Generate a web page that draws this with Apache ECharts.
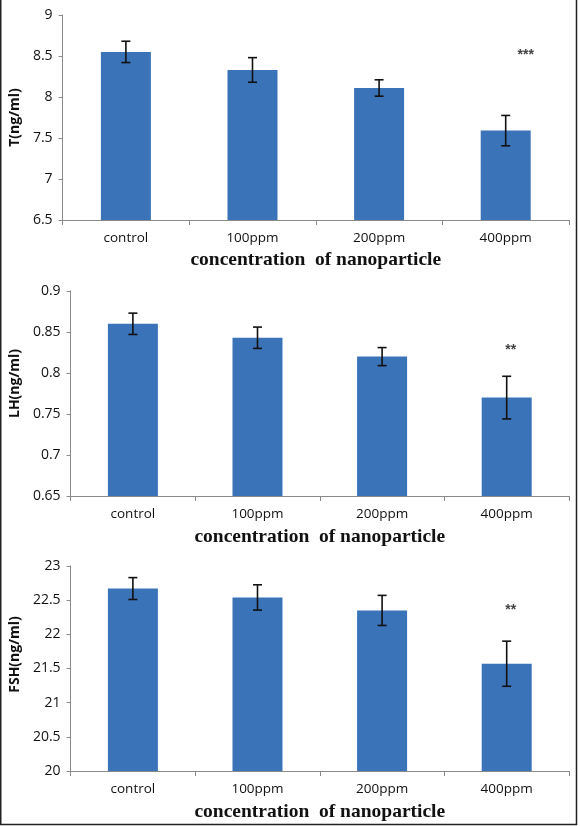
<!DOCTYPE html>
<html>
<head>
<meta charset="utf-8">
<script src="https://cdn.jsdelivr.net/npm/echarts@6/dist/echarts.min.js"></script>
<style>
html,body{margin:0;padding:0;background:#fff;}
#chart{width:580px;height:826px;}
</style>
</head>
<body>
<div id="chart"></div>
<script>
// ---- data ----
const categories = ['control', '100ppm', '200ppm', '400ppm'];
const xAxisTitle = 'concentration  of nanoparticle';

const tTitle = 'T(ng/ml)';
const tValues = [8.55, 8.33, 8.11, 7.59];
const tErrors = [0.13, 0.15, 0.10, 0.185];
const tSigLabels = ['', '', '', '***'];
const tSigY = [null, null, null, 8.51];

const lhTitle = 'LH(ng/ml)';
const lhValues = [0.860, 0.843, 0.820, 0.770];
const lhErrors = [0.013, 0.013, 0.011, 0.026];
const lhSigLabels = ['', '', '', '**'];
const lhSigY = [null, null, null, 0.828];

const fshTitle = 'FSH(ng/ml)';
const fshValues = [22.67, 22.54, 22.35, 21.57];
const fshErrors = [0.16, 0.185, 0.22, 0.33];
const fshSigLabels = ['', '', '', '**'];
const fshSigY = [null, null, null, 22.36];

const tTicks = { min: 6.5, max: 9, interval: 0.5 };
const lhTicks = { min: 0.65, max: 0.9, interval: 0.05 };
const fshTicks = { min: 20, max: 23, interval: 0.5 };

// ---- styling / build ----
const barColor = '#3b73b9';
const axisColor = '#8a8a8a';
const labelColor = '#111';

const panels = [
  { title: tTitle, values: tValues, errors: tErrors, sig: tSigLabels, sigY: tSigY, ticks: tTicks,
    grid: { left: 61, right: 11, top: 15, height: 205 }, nameGap: 40, namePad: 0, xNameGap: 30, sigDx: 20 },
  { title: lhTitle, values: lhValues, errors: lhErrors, sig: lhSigLabels, sigY: lhSigY, ticks: lhTicks,
    grid: { left: 68, right: 11, top: 291, height: 205 }, nameGap: 46, namePad: 20, xNameGap: 31, sigDx: 4 },
  { title: fshTitle, values: fshValues, errors: fshErrors, sig: fshSigLabels, sigY: fshSigY, ticks: fshTicks,
    grid: { left: 68, right: 11, top: 566, height: 205 }, nameGap: 46, namePad: 28, xNameGap: 31, sigDx: 4 }
];

const grids = [], xAxes = [], yAxes = [], series = [];

panels.forEach((p, k) => {
  grids.push(p.grid);
  xAxes.push({
    type: 'category', gridIndex: k, data: categories,
    name: xAxisTitle, nameLocation: 'middle', nameGap: p.xNameGap,
    nameTextStyle: { fontFamily: 'Liberation Serif', fontWeight: 'bold', fontSize: 19.5, color: '#111' },
    axisLine: { lineStyle: { color: axisColor, width: 1 } },
    axisTick: { show: true, length: 5, lineStyle: { color: axisColor } },
    axisLabel: { color: labelColor, fontFamily: 'Open Sans', fontSize: 13.5, margin: 11 },
    splitLine: { show: false }
  });
  yAxes.push({
    type: 'value', gridIndex: k,
    min: p.ticks.min, max: p.ticks.max, interval: p.ticks.interval,
    name: p.title, nameLocation: 'middle', nameGap: p.nameGap, nameRotate: 90,
    nameTextStyle: { fontFamily: 'Open Sans', fontWeight: 'bold', fontSize: 14, color: '#111',
      padding: [0, 0, 0, p.namePad] },
    axisLine: { show: true, lineStyle: { color: axisColor, width: 1 } },
    axisTick: { show: true, length: 4, lineStyle: { color: axisColor } },
    axisLabel: { color: labelColor, fontFamily: 'Open Sans', fontSize: 14, margin: 10,
      formatter: v => String(parseFloat(v.toFixed(4))) },
    splitLine: { show: false }
  });
  series.push({
    type: 'bar', xAxisIndex: k, yAxisIndex: k, data: p.values,
    barWidth: 50, itemStyle: { color: barColor }, silent: true
  });
  series.push({
    type: 'custom', xAxisIndex: k, yAxisIndex: k, z: 5, silent: true,
    data: p.values.map((v, i) => [i, v, p.errors[i]]),
    renderItem: (params, api) => {
      const i = api.value(0), v = api.value(1), e = api.value(2);
      const top = api.coord([i, v + e]);
      const bot = api.coord([i, v - e]);
      const hw = 4.5;
      const st = { stroke: '#111', lineWidth: 1.6 };
      return { type: 'group', children: [
        { type: 'line', shape: { x1: top[0], y1: top[1], x2: bot[0], y2: bot[1] }, style: st },
        { type: 'line', shape: { x1: top[0] - hw, y1: top[1], x2: top[0] + hw, y2: top[1] }, style: st },
        { type: 'line', shape: { x1: bot[0] - hw, y1: bot[1], x2: bot[0] + hw, y2: bot[1] }, style: st }
      ]};
    }
  });
  series.push({
    type: 'custom', xAxisIndex: k, yAxisIndex: k, z: 6, silent: true,
    data: p.sig.map((s, i) => [i, p.sigY[i], s]).filter(d => d[2] !== ''),
    renderItem: (params, api) => {
      const i = api.value(0), y = api.value(1);
      const c = api.coord([i, y]);
      const d = p.sig.filter(s => s !== '')[params.dataIndex];
      return { type: 'text', x: c[0] + p.sigDx, y: c[1],
        style: { text: d, fill: '#444', font: 'bold 14px "Liberation Sans"', align: 'center', verticalAlign: 'middle' } };
    }
  });
});

const chart = echarts.init(document.getElementById('chart'), null, { renderer: 'canvas' });
chart.setOption({
  animation: false,
  backgroundColor: '#ffffff',
  grid: grids,
  xAxis: xAxes,
  yAxis: yAxes,
  series: series,
  graphic: [{
    type: 'polyline', silent: true,
    shape: { points: [[0.75, 0], [0.75, 824.5], [576.5, 824.5], [576.5, 0]] },
    style: { stroke: '#222', lineWidth: 1.5, fill: null }
  }]
});
</script>
</body>
</html>
